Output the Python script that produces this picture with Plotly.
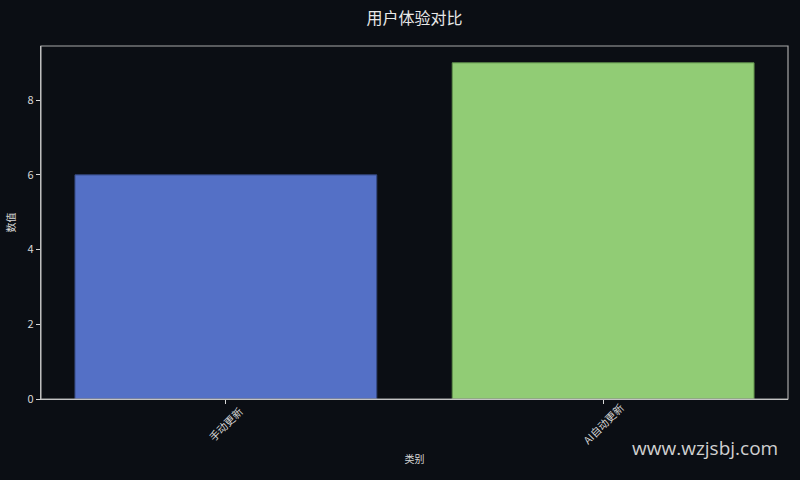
"""User experience comparison bar chart."""

import plotly.graph_objects as go

categories = ["手动更新", "AI自动更新"]
values = [6, 9]
bar_colors = ["#5470c6", "#91cc75"]
edge_colors = ["#34477e", "#5f8f4a"]

BG = "#0b0e14"
FONT = "Noto Sans CJK SC, DejaVu Sans, sans-serif"

positions = list(range(len(categories)))

fig = go.Figure()
fig.add_trace(go.Bar(
    x=positions,
    y=values,
    width=0.8,
    marker=dict(color=bar_colors, line=dict(color=edge_colors, width=1)),
    hoverinfo="skip",
))

# top/right spines are dimmer than left/bottom
fig.add_shape(type="rect", xref="paper", yref="paper", x0=0, y0=0, x1=1, y1=1,
              line=dict(color="#a8a8a8", width=1.2), layer="above")

fig.update_layout(
    width=800,
    height=480,
    paper_bgcolor=BG,
    plot_bgcolor=BG,
    showlegend=False,
    margin=dict(l=41, r=12, t=46, b=81),
    font=dict(family=FONT, color="#d8d8d8", size=11),
    title=dict(text="用户体验对比", x=0.5, xref="paper", xanchor="center", y=0.962,
               yanchor="middle", font=dict(size=16, color="#e8e8e8")),
    xaxis=dict(
        range=[-0.49, 1.49],
        tickmode="array",
        tickvals=positions,
        showticklabels=False,
        ticks="outside",
        ticklen=4,
        tickcolor="#d8d8d8",
        showgrid=False,
        zeroline=False,
        showline=True,
        linecolor="#e0e0e0",
        linewidth=1.2,
        title=dict(text="类别", font=dict(size=10), standoff=52),
    ),
    yaxis=dict(
        range=[0, 9.45],
        tickvals=[0, 2, 4, 6, 8],
        ticks="outside",
        ticklen=4,
        tickcolor="#d8d8d8",
        showgrid=False,
        zeroline=False,
        showline=True,
        linecolor="#e0e0e0",
        linewidth=1.2,
        tickfont=dict(size=11),
        title=dict(text="数值", font=dict(size=10), standoff=10),
    ),
)

# rotated category labels centred under each tick (matplotlib-style)
for pos, label in zip(positions, categories):
    fig.add_annotation(
        text=label, x=pos, xref="x", y=-0.068, yref="paper",
        xanchor="center", yanchor="middle", textangle=-45, showarrow=False,
        font=dict(size=10.5, color="#d8d8d8"),
    )

fig.add_annotation(
    text="www.wzjsbj.com", xref="paper", yref="paper",
    x=0.989, y=-0.139, xanchor="right", yanchor="middle", showarrow=False,
    font=dict(size=19, color="#d0d0d0", family="Open Sans, DejaVu Sans, sans-serif"),
)

fig.write_html("out.html", config={"displayModeBar": False},
               post_script="document.body.style.margin='0';")
